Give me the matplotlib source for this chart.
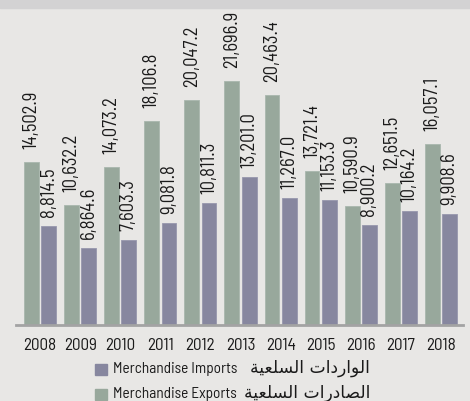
import matplotlib.pyplot as plt
import numpy as np

years = ["2008", "2009", "2010", "2011", "2012", "2013", "2014", "2015", "2016", "2017", "2018"]
exports = [14502.9, 10632.2, 14073.2, 18106.8, 20047.2, 21696.9, 20463.4, 13721.4, 10590.9, 12651.5, 16057.1]
imports = [8814.5, 6864.6, 7603.3, 9081.8, 10811.3, 13201.0, 11267.0, 11153.3, 8900.2, 10164.2, 9908.6]

# Arabic in visual order with presentation forms (matplotlib does no shaping)
AR_IMPORTS = "\uFE94\uFEF4\uFECC\uFEE0\uFEB4\uFEDF\uFE8D \uFE95\uFE8D\uFEA9\uFEAD\uFE8D\uFEEE\uFEDF\uFE8D"
AR_EXPORTS = "\uFE94\uFEF4\uFECC\uFEE0\uFEB4\uFEDF\uFE8D \uFE95\uFE8D\uFEAD\uFEA9\uFE8E\uFEBC\uFEDF\uFE8D"

BG = "#e8e7e5"
EXP_C = "#98a89c"
IMP_C = "#87879f"
FONT = ["Barlow Semi Condensed", "DejaVu Sans"]

W, H = 470, 401
fig = plt.figure(figsize=(W / 100, H / 100), dpi=100, facecolor=BG)

# grey strip at the top
fig.patches.append(plt.Rectangle((0, 1 - 8 / H), 1, 8 / H, transform=fig.transFigure,
                                 color="#d3d2d3", zorder=0))

ax = fig.add_axes([16 / W, (H - 325) / H, (463 - 16) / W, (325 - 8) / H])
ax.set_facecolor("none")

x = np.arange(len(years))
bw = 0.37
off = 0.215
ax.bar(x - off, exports, bw, color=EXP_C, edgecolor="#a9b7ad", linewidth=0.6)
ax.bar(x + off, imports, bw, color=IMP_C, edgecolor="#9797ad", linewidth=0.6)

lab = dict(rotation=90, ha="center", va="bottom", fontsize=13.5, color="#1a1a1a",
           family=FONT, textcoords="offset pixels")
for i in range(len(years)):
    ax.annotate(f"{exports[i]:,.1f}", (x[i] - off, exports[i]), xytext=(0, 13), **lab)
    ax.annotate(f"{imports[i]:,.1f}", (x[i] + off, imports[i]), xytext=(0, 9), **lab)

ax.set_xlim(-0.6, len(years) - 0.45)
ax.set_ylim(0, 28200)
for s in ["top", "right", "left"]:
    ax.spines[s].set_visible(False)
ax.spines["bottom"].set_color("#a3a3a3")
ax.spines["bottom"].set_linewidth(2)
ax.set_yticks([])
ax.set_xticks(x)
ax.set_xticklabels(years, fontsize=12.3, color="#1a1a1a", family=FONT)
ax.tick_params(axis="x", length=0, pad=9)

# legend
def legend_row(y_px, color, text, ar):
    fig.patches.append(plt.Rectangle((95 / W, 1 - (y_px + 6) / H), 12 / W, 11 / H,
                                     transform=fig.transFigure, color=color))
    fig.text(113 / W, 1 - y_px / H, text, fontsize=11, va="center", ha="left",
             color="#1a1a1a", family=FONT)
    fig.text(370 / W, 1 - (y_px - 1) / H, ar, fontsize=12.3, va="center", ha="right",
             color="#1a1a1a", family="DejaVu Sans")

legend_row(369, IMP_C, "Merchandise Imports", AR_IMPORTS)
legend_row(394, EXP_C, "Merchandise Exports", AR_EXPORTS)

fig.savefig("out.png", dpi=100, facecolor=BG)
